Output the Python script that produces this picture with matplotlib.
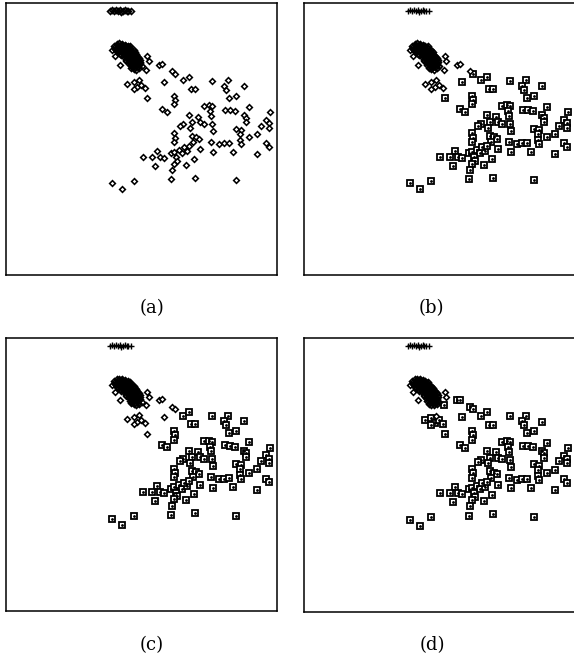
import matplotlib.pyplot as plt
import numpy as np

# dense core group (always drawn as diamonds)
core_x = [324, 332, 340, 348, 356, 364, 372,
          327, 335, 343, 351, 359, 367, 375, 382,
          332, 340, 348, 356, 364, 372, 380, 388,
          342, 350, 358, 366, 374, 382, 390, 398,
          354, 362, 370, 378, 386, 394, 402,
          367, 375, 383, 391, 399,
          374, 382, 390, 398, 406,
          328, 336, 344, 352, 360, 368,
          331, 339, 347, 355, 363, 371, 379, 386,
          337, 345, 353, 361, 369, 377, 385, 393,
          346, 354, 362, 370, 378, 386, 394, 402,
          360, 368, 376, 384, 392, 400,
          370, 378, 386, 394]
core_y = [687, 692, 694, 692, 690, 687, 685,
          678, 682, 684, 683, 680, 678, 675, 673,
          670, 673, 675, 673, 670, 667, 665, 662,
          663, 665, 662, 659, 657, 655, 653, 650,
          653, 650, 647, 645, 643, 640, 639,
          637, 633, 630, 628, 629,
          620, 617, 615, 619, 625,
          683, 688, 689, 687, 685, 682,
          674, 678, 679, 677, 675, 672, 669, 667,
          667, 669, 668, 666, 663, 661, 658, 656,
          658, 659, 656, 653, 651, 648, 646, 645,
          645, 642, 640, 637, 634, 634,
          628, 625, 622, 622]

# thin band at the top
top_x = [312, 318, 324, 330, 336, 341, 346, 351, 356, 361, 366, 374]
top_y = [792, 794, 790, 793, 791, 795, 789, 792, 794, 790, 792, 790]

# points near the core whose class changes between panels (1 = square)
near_x = [318, 327, 342, 360, 422, 427, 420, 457, 467, 497, 507,
          530, 547, 472, 362, 382, 397, 392, 382, 405, 417, 422]
near_y = [675, 655, 630, 642, 655, 640, 615, 630, 632, 610, 603,
          583, 594, 579, 572, 578, 584, 563, 557, 570, 560, 529]
near_b = [0, 0, 0, 0, 0, 0, 0, 0, 0, 0, 1,
          1, 1, 1, 0, 0, 0, 0, 0, 0, 0, 1]
near_c = [0, 0, 0, 0, 0, 0, 0, 0, 0, 0, 0,
          1, 1, 0, 0, 0, 0, 0, 0, 0, 0, 0]
near_d = [0, 0, 0, 0, 0, 0, 1, 1, 1, 1, 1,
          1, 1, 1, 1, 1, 0, 1, 1, 1, 1, 1]

# spread-out points (squares in panels b, c, d)
far_x = [554, 565, 618, 666, 654, 658, 714, 668, 688, 504, 505, 503,
         467, 482, 594, 607, 618, 612, 615, 656, 670, 687, 728, 712,
         720, 719, 792, 778, 788, 764, 788, 547, 530, 522, 557, 574,
         582, 594, 552, 618, 620, 688, 704, 700, 752, 728, 778, 788,
         502, 506, 502, 558, 568, 579, 560, 614, 638, 652, 668, 702,
         705, 620, 679, 752, 452, 437, 460, 474, 409, 447, 494, 503,
         517, 528, 542, 532, 548, 508, 512, 503, 496, 538, 564, 582,
         494, 567, 688, 382, 348, 319]
far_y = [557, 557, 582, 583, 567, 555, 566, 531, 537, 537, 525, 511,
         497, 489, 507, 509, 505, 490, 477, 495, 494, 491, 504, 479,
         472, 459, 488, 465, 455, 448, 442, 479, 453, 447, 459, 475,
         459, 454, 442, 453, 432, 439, 435, 423, 423, 413, 395, 384,
         425, 412, 399, 418, 414, 409, 399, 399, 394, 395, 396, 405,
         393, 368, 369, 362, 373, 355, 354, 352, 355, 328, 365, 370,
         375, 365, 373, 383, 388, 353, 343, 333, 315, 330, 348, 377,
         287, 292, 284, 283, 257, 275]

panels = ["(a)", "(b)", "(c)", "(d)"]
labels = [None, near_b, near_c, near_d]
positions = [[0.0105, 0.5833, 0.4721, 0.4121],
             [0.5296, 0.5833, 0.4721, 0.4121],
             [0.0105, 0.0742, 0.4721, 0.4136],
             [0.5296, 0.0727, 0.4721, 0.4152]]
caption_xy = [(0.265, 0.533), (0.751, 0.533), (0.265, 0.023), (0.753, 0.023)]

diamond = dict(marker="D", ms=2.9, mfc="white", mec="black", mew=1.15, ls="none")
square = dict(marker="s", ms=4.6, mfc="white", mec="black", mew=1.3, ls="none")
# overlapping outlines in the dense spots, so they read as a dark blob
hollow = dict(marker="D", ms=3.0, mfc="none", mec="black", mew=1.2, ls="none")

fig = plt.figure(figsize=(5.74, 6.6), dpi=100)

for i, name in enumerate(panels):
    ax = fig.add_axes(positions[i])
    lab = labels[i]

    if lab is None:
        # panel (a): everything is one class
        ax.plot(top_x, top_y, **hollow)
        ax.plot(far_x, far_y, **diamond)
        ax.plot(near_x, near_y, **diamond)
    else:
        ax.plot(top_x, top_y, marker="+", ms=5, mew=1.0, color="black", ls="none")
        lab = np.array(lab)
        nx = np.array(near_x)
        ny = np.array(near_y)
        sq_x = list(far_x) + list(nx[lab == 1])
        sq_y = list(far_y) + list(ny[lab == 1])
        ax.plot(sq_x, sq_y, **square)
        ax.plot(sq_x, sq_y, marker="o", ms=1.0, color="black", ls="none")
        ax.plot(nx[lab == 0], ny[lab == 0], **diamond)

    ax.plot(core_x, core_y, **hollow)

    ax.set_xlim(0, 812)
    ax.set_ylim(0, 815)
    ax.set_xticks([])
    ax.set_yticks([])
    for sp in ax.spines.values():
        sp.set_linewidth(1.1)

    fig.text(caption_xy[i][0], caption_xy[i][1], name, ha="center", va="center",
             fontsize=13, family="DejaVu Serif")

fig.savefig("out.png", dpi=100)
